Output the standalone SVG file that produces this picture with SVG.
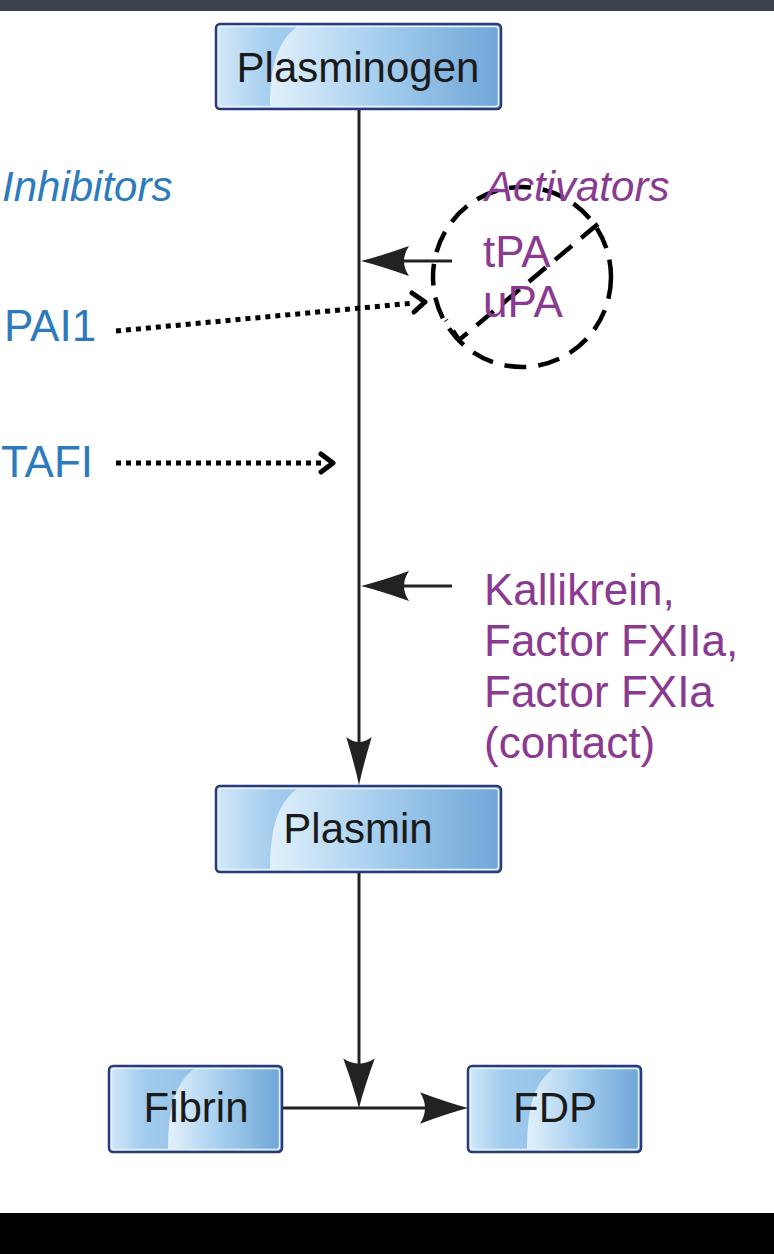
<svg xmlns="http://www.w3.org/2000/svg" width="774" height="1254" viewBox="0 0 774 1254">
<style>
.box{fill:url(#base);stroke:#2a3a78;stroke-width:2.5}
.hl{fill:url(#hl)}
.lbl{font-family:"Liberation Sans",Arial,sans-serif;font-size:42px;fill:#1a1a1a;text-anchor:middle}
.head{font-family:"Liberation Sans",Arial,sans-serif;font-size:42px;font-style:italic}
.inh{font-family:"Liberation Sans",Arial,sans-serif;font-size:44px;fill:#2d7bbd}
.act{font-family:"Liberation Sans",Arial,sans-serif;font-size:44px;fill:#8a3a90}
.ln{stroke:#222;stroke-width:3;fill:none}
.ah{fill:#222}
.dot{stroke:#000;stroke-width:5;stroke-dasharray:5 5;fill:none}
.chev{stroke:#000;stroke-width:5;fill:none;stroke-linecap:round;stroke-linejoin:round}
.dash{stroke:#000;stroke-width:4.5;stroke-dasharray:22 12;fill:none}
.rim{fill:none;stroke:#e6f2fb;stroke-width:1.5}
</style>
<defs>
<linearGradient id="base" x1="0" y1="0" x2="1" y2="0">
<stop offset="0" stop-color="#d2e9f8"/>
<stop offset="0.2" stop-color="#a2ccee"/>
<stop offset="1" stop-color="#7aaedb"/>
</linearGradient>
<linearGradient id="hl" x1="0" y1="0" x2="1" y2="0">
<stop offset="0" stop-color="#e2f1fb"/>
<stop offset="0.45" stop-color="#a8d0ef"/>
<stop offset="1" stop-color="#70a6d7"/>
</linearGradient>
<path id="arr" d="M0,0 Q-20,-5 -48,-15 Q-38,0 -48,15 Q-20,5 0,0 z"/>
</defs>
<rect x="0" y="0" width="774" height="1254" fill="#fff"/>
<rect x="0" y="0" width="774" height="11" fill="#3d424d"/>
<rect x="0" y="1213" width="774" height="41" fill="#000"/>

<g id="connectors">
<line class="ln" x1="359" y1="110" x2="359" y2="770"/>
<use href="#arr" class="ah" transform="translate(359,785) rotate(90) scale(1,0.85)"/>
<line class="ln" x1="359" y1="873" x2="359" y2="1090"/>
<use href="#arr" class="ah" transform="translate(359,1108) rotate(90) scale(1.03,1.05)"/>
<line class="ln" x1="283" y1="1108" x2="450" y2="1108"/>
<use href="#arr" class="ah" transform="translate(468,1108) scale(1,1.05)"/>
<line class="ln" x1="452" y1="261" x2="380" y2="261"/>
<use href="#arr" class="ah" transform="translate(361,261) rotate(180)"/>
<line class="ln" x1="452" y1="586" x2="380" y2="586"/>
<use href="#arr" class="ah" transform="translate(361,586) rotate(180)"/>
<line class="dot" x1="116" y1="331" x2="414" y2="303"/>
<path class="chev" d="M412,293 L425,302 L414,312"/>
<line class="dot" x1="116" y1="463" x2="326" y2="463"/>
<path class="chev" d="M321,454 L333,463 L321,472"/>
<ellipse class="dash" cx="522" cy="277" rx="89" ry="90"/>
<path class="dash" d="M598,224 L459,340 L446,320" stroke-dasharray="20 10"/>
</g>

<g id="plasminogen">
<rect class="box" x="216" y="24" width="285" height="85" rx="4"/>
<path class="hl" d="M298,26 C279,40 270,62 270,106.5 L496,106.5 Q498.5,106.5 498.5,104 L498.5,29 Q498.5,26 496,26 z"/>
<rect class="rim" x="218.5" y="26.5" width="280" height="80" rx="3"/>
<text class="lbl" x="358" y="82">Plasminogen</text>
</g>

<g id="plasmin">
<rect class="box" x="216" y="786" width="285" height="86" rx="4"/>
<path class="hl" d="M298,788 C279,802 270,825 270,869.5 L496,869.5 Q498.5,869.5 498.5,867 L498.5,791 Q498.5,788 496,788 z"/>
<rect class="rim" x="218.5" y="788.5" width="280" height="81" rx="3"/>
<text class="lbl" x="358" y="843">Plasmin</text>
</g>

<g id="fibrin">
<rect class="box" x="109" y="1066" width="173" height="86" rx="4"/>
<path class="hl" d="M195,1068 C176,1082 168,1105 168,1149.5 L277,1149.5 Q279.5,1149.5 279.5,1147 L279.5,1071 Q279.5,1068 277,1068 z"/>
<rect class="rim" x="111.5" y="1068.5" width="168" height="81" rx="3"/>
<text class="lbl" x="196" y="1122">Fibrin</text>
</g>

<g id="fdp">
<rect class="box" x="468" y="1066" width="173" height="86" rx="4"/>
<path class="hl" d="M554,1068 C535,1082 527,1105 527,1149.5 L636,1149.5 Q638.5,1149.5 638.5,1147 L638.5,1071 Q638.5,1068 636,1068 z"/>
<rect class="rim" x="470.5" y="1068.5" width="168" height="81" rx="3"/>
<text class="lbl" x="555" y="1122">FDP</text>
</g>

<g id="inhibitors">
<text class="head" x="2" y="201" fill="#2d7bbd">Inhibitors</text>
<text class="inh" x="4" y="341">PAI1</text>
<text class="inh" x="1" y="477">TAFI</text>
</g>

<g id="activators">
<text class="head" x="485" y="201" fill="#8a3a90">Activators</text>
<text class="act" x="483" y="267">tPA</text>
<text class="act" x="483" y="317">uPA</text>
<text class="act" x="484" y="605">Kallikrein,</text>
<text class="act" x="484" y="656">Factor FXIIa,</text>
<text class="act" x="484" y="707">Factor FXIa</text>
<text class="act" x="484" y="758">(contact)</text>
</g>
</svg>
